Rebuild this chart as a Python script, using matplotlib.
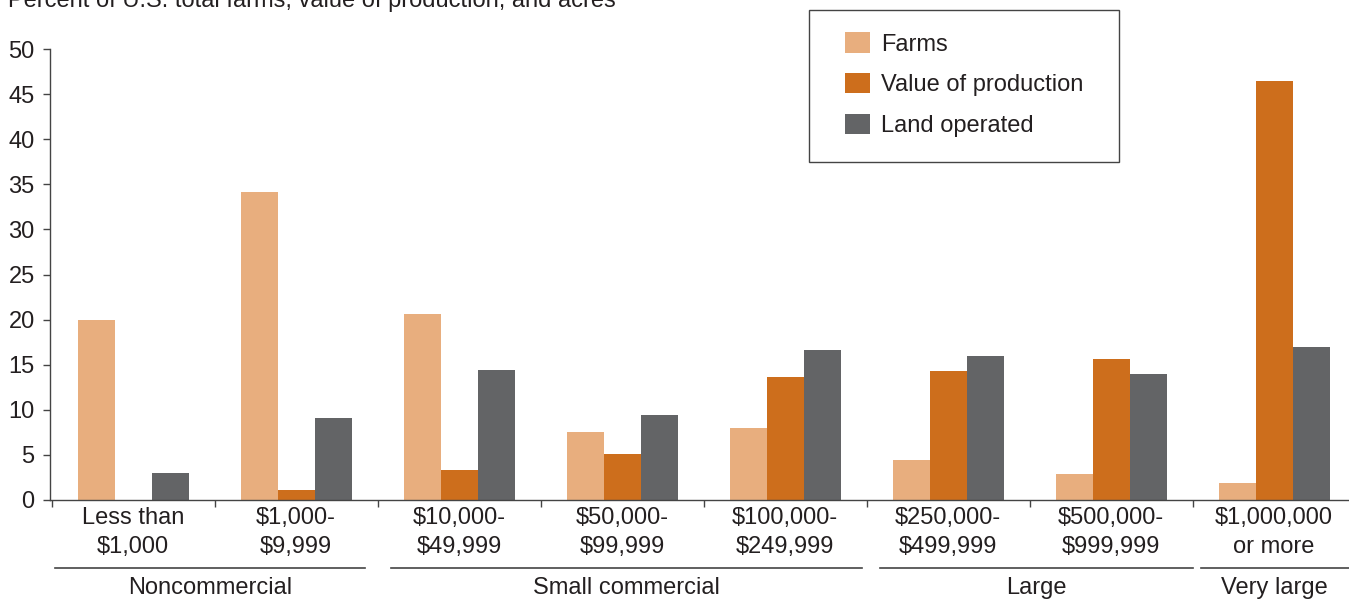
import numpy as np
import matplotlib.pyplot as plt
from matplotlib.patches import Rectangle
from matplotlib.transforms import blended_transform_factory

# -----------------------
# Datos (porcentaje del total de EE.UU.)
# -----------------------
categorias = ["Less than\n$1,000", "$1,000-\n$9,999", "$10,000-\n$49,999",
              "$50,000-\n$99,999", "$100,000-\n$249,999", "$250,000-\n$499,999",
              "$500,000-\n$999,999", "$1,000,000\nor more"]
farms = [20.0, 34.1, 20.6, 7.5, 8.0, 4.4, 2.9, 1.9]
value_prod = [0.0, 1.1, 3.3, 5.1, 13.6, 14.3, 15.6, 46.5]
land = [3.0, 9.1, 14.4, 9.4, 16.6, 16.0, 14.0, 17.0]

series_labels = ["Farms", "Value of production", "Land operated"]
colores = ["#E8AE7E", "#CD6E1C", "#636466"]

# grupos de tamaño: (nombre, inicio, fin) en unidades de categoría
grupos = [("Noncommercial", -0.48, 1.42),
          ("Small commercial", 1.58, 4.47),
          ("Large", 4.58, 6.50),
          ("Very large", 6.55, 7.50)]

plt.rcParams['font.family'] = ['Liberation Sans', 'DejaVu Sans']
texto = "#231F20"
fs = 17
W, H = 1349, 599

fig = plt.figure(figsize=(W / 100, H / 100), dpi=100)
ax = fig.add_axes([50 / W, 99 / H, 1 - 50 / W, 451 / H])

x = np.arange(len(categorias))
w = 0.227
for i, (vals, lab, col) in enumerate(zip([farms, value_prod, land], series_labels, colores)):
    ax.bar(x + (i - 1) * w, vals, width=w, color=col, label=lab)

ax.set_xlim(-0.51, 7.46)
ax.set_ylim(0, 50)
ax.set_yticks(range(0, 51, 5))
ax.tick_params(axis='y', labelsize=fs, length=5, width=1, color="#444444", pad=6, labelcolor=texto)

# ticks del eje x en los limites de cada categoria
ax.set_xticks(np.arange(-0.5, 7.5, 1.0))
ax.set_xticklabels([])
ax.tick_params(axis='x', length=5, width=1, color="#444444")
for xi, lab in zip(x, categorias):
    ax.text(xi, -0.8, lab, ha='center', va='top', fontsize=fs, color=texto,
            linespacing=1.4)

for s in ['top', 'right']:
    ax.spines[s].set_visible(False)
for s in ['left', 'bottom']:
    ax.spines[s].set_color("#444444")
    ax.spines[s].set_linewidth(1)

# lineas de agrupacion bajo las etiquetas
trans = blended_transform_factory(ax.transData, fig.transFigure)
for nombre, x0, x1 in grupos:
    ax.plot([x0, x1], [1 - 568 / H] * 2, color="#444444", lw=1.2,
            transform=trans, clip_on=False)
    ax.text((x0 + min(x1, 7.46)) / 2, 1 - 588 / H, nombre, ha='center', va='center',
            fontsize=fs, color=texto, transform=trans)

fig.text(8 / W, 1 - 1 / H, "Percent of U.S. total farms, value of production, and acres",
         ha='left', va='center', fontsize=fs, color=texto)

# leyenda sin marco + marco dibujado aparte
leg = ax.legend(loc='upper left', bbox_to_anchor=(845 / W, 1 - 32.5 / H),
                bbox_transform=fig.transFigure, fontsize=fs, frameon=False,
                borderpad=0, handlelength=1.06, handleheight=0.93,
                handletextpad=0.45, labelspacing=0.74, borderaxespad=0)
for t in leg.get_texts():
    t.set_color(texto)
fig.patches.append(Rectangle((809 / W, 1 - 162 / H), 310 / W, 152 / H,
                             transform=fig.transFigure, fill=False,
                             edgecolor="#444444", linewidth=1))

fig.savefig("out.png", dpi=100)
